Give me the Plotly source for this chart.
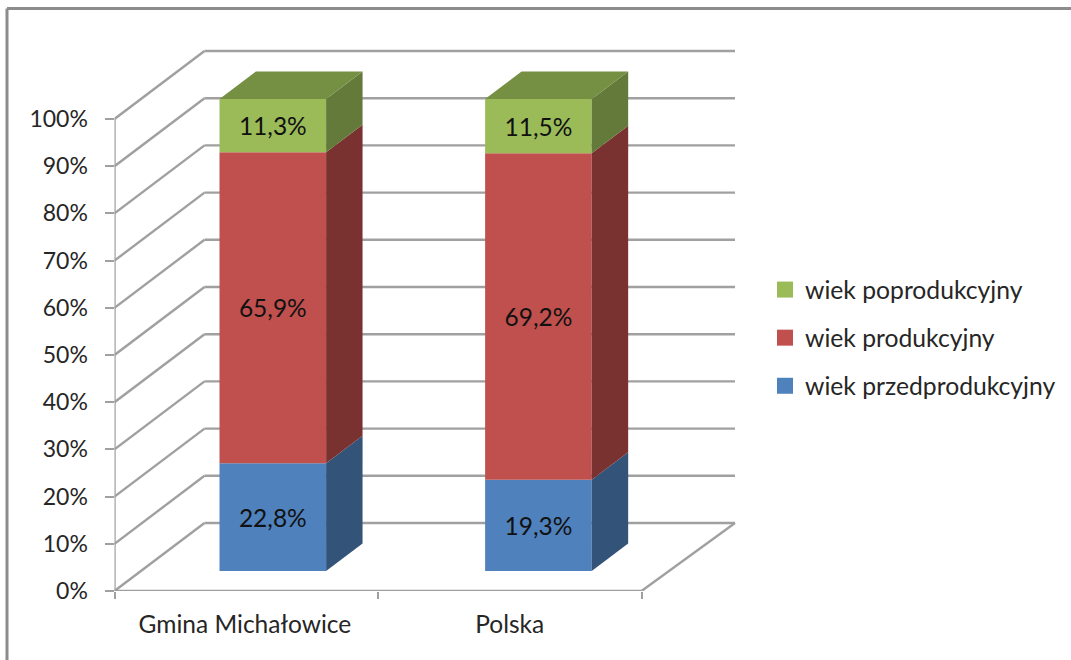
import plotly.graph_objects as go

# ---- data
categories = ["Gmina Michałowice", "Polska"]
series_names = ["wiek przedprodukcyjny", "wiek produkcyjny", "wiek poprodukcyjny"]
przedprodukcyjny = [22.8, 19.3]
produkcyjny = [65.9, 69.2]
poprodukcyjny = [11.3, 11.5]
y_ticks = [0, 10, 20, 30, 40, 50, 60, 70, 80, 90, 100]

# ---- styles
front_colors = ["#4F81BD", "#C0504D", "#9BBB59"]
side_colors = ["#335379", "#7A3230", "#647A3A"]
top_color = "#758F43"
grid_color = "#A0A0A0"
text_color = "#262626"
font_family = "Lato"
W, H = 1071, 660
X0, X_CAT, Y0, Y_PCT = 114.5, 263.5, 591.0, 4.72   # px of value 0, px per category, px per percent
PLOT_R, PLOT_T = 745.0, 40.0
DEPTH_X, DEPTH_Y = 90 / X_CAT, 68 / Y_PCT           # wall depth in axis units
DEPTH_X_RIGHT = 93.5 / X_CAT                        # the right edge of the floor leans a little more
FRONT, BACK = 0.295, 0.70                           # bar front/back as a fraction of depth
BAR_W = 106.6 / X_CAT
cat_pos = [0.5, 1.508]
n_cat = len(categories)

series = [przedprodukcyjny, produkcyjny, poprodukcyjny]
fig = go.Figure()

# front faces (real bars), stacked from the values
base = [FRONT * DEPTH_Y] * n_cat
bases = []
for i, vals in enumerate(series):
    bases.append(list(base))
    fig.add_trace(go.Bar(
        x=[p + FRONT * DEPTH_X for p in cat_pos], y=vals, base=list(base), width=BAR_W,
        marker=dict(color=front_colors[i], line=dict(width=0)),
        text=[f"{v:.1f}%".replace(".", ",") for v in vals],
        textposition="inside", insidetextanchor="middle", textangle=0, constraintext="none",
        textfont=dict(family=font_family, size=24.5, color="#111111"),
        name=series_names[i], legendgroup=series_names[i], showlegend=False, hoverinfo="x+y+name",
    ))
    base = [b + v for b, v in zip(base, vals)]

# side and top faces, projected from the same values
dx, dy = (BACK - FRONT) * DEPTH_X, (BACK - FRONT) * DEPTH_Y
for i, vals in enumerate(series):
    for j in range(n_cat):
        r = cat_pos[j] + FRONT * DEPTH_X + BAR_W / 2
        b, t = bases[i][j], bases[i][j] + vals[j]
        fig.add_trace(go.Scatter(
            x=[r, r + dx, r + dx, r, r], y=[b, b + dy, t + dy, t, b],
            mode="lines", fill="toself", fillcolor=side_colors[i], line=dict(width=0),
            legendgroup=series_names[i], showlegend=False, hoverinfo="skip",
        ))
for j in range(n_cat):
    l = cat_pos[j] + FRONT * DEPTH_X - BAR_W / 2
    r = l + BAR_W
    t = bases[2][j] + series[2][j]
    fig.add_trace(go.Scatter(
        x=[l, r, r + dx, l + dx, l], y=[t, t, t + dy, t + dy, t],
        mode="lines", fill="toself", fillcolor=top_color, line=dict(width=0),
        legendgroup=series_names[2], showlegend=False, hoverinfo="skip",
    ))

# legend entries
for i in [2, 1, 0]:
    fig.add_trace(go.Scatter(
        x=[None], y=[None], mode="markers", name=series_names[i], legendgroup=series_names[i],
        marker=dict(symbol="square", size=16, color=front_colors[i]),
    ))

# walls and floor
def seg(x0, y0, x1, y1):
    return dict(type="line", xref="x", yref="y", x0=x0, y0=y0, x1=x1, y1=y1, layer="below",
                line=dict(color=grid_color, width=2.4))

shapes = [seg(0, 0, 0, 100), seg(0, 0, n_cat, 0), seg(n_cat, 0, n_cat + DEPTH_X_RIGHT, DEPTH_Y)]
for v in y_ticks:
    shapes.append(seg(0, v, DEPTH_X, v + DEPTH_Y))
    shapes.append(seg(DEPTH_X, v + DEPTH_Y, n_cat + DEPTH_X_RIGHT, v + DEPTH_Y))
# outer frame of the picture
for x0, y0, x1, y1, c in [(7, 8.5, 7, H, "#8C8C8C"), (7, 8.5, W, 8.5, "#8C8C8C")]:
    shapes.append(dict(type="line", xref="paper", yref="paper",
                       x0=x0 / W, x1=x1 / W, y0=1 - y0 / H, y1=1 - y1 / H, layer="below",
                       line=dict(color=c, width=3)))

fig.update_layout(
    width=W, height=H, margin=dict(l=0, r=0, t=0, b=0, autoexpand=False),
    paper_bgcolor="white", plot_bgcolor="rgba(0,0,0,0)",
    barmode="overlay", shapes=shapes,
    font=dict(family=font_family, size=24, color=text_color),
    xaxis=dict(
        domain=[X0 / W, PLOT_R / W], range=[0, (PLOT_R - X0) / X_CAT],
        tickmode="array", tickvals=[0.495, 1.5], ticktext=categories,
        showgrid=False, zeroline=False, showline=False, ticks="outside", ticklen=0,
        ticklabelstandoff=12, tickfont=dict(size=24.5),
        minor=dict(tickmode="array", tickvals=[0, 1, 2], ticks="outside", ticklen=7,
                   tickwidth=2.4, tickcolor=grid_color, showgrid=False),
    ),
    yaxis=dict(
        domain=[1 - Y0 / H, 1 - PLOT_T / H], range=[0, (Y0 - PLOT_T) / Y_PCT],
        tickmode="array", tickvals=y_ticks, ticktext=[f"{v}%" for v in y_ticks],
        showgrid=False, zeroline=False, showline=False, ticks="outside", ticklen=9,
        tickwidth=2.4, tickcolor=grid_color, ticklabelstandoff=12, tickfont=dict(size=23),
    ),
    legend=dict(x=765 / W, xanchor="left", y=1 - 338 / H, yanchor="middle",
                traceorder="grouped", tracegroupgap=13, bgcolor="rgba(0,0,0,0)",
                font=dict(family=font_family, size=24.7, color=text_color), itemsizing="trace"),
    showlegend=True,
)

fig.write_html("out.html", config=dict(displayModeBar=False),
               post_script="document.body.style.margin='0';document.body.style.overflow='hidden';")
